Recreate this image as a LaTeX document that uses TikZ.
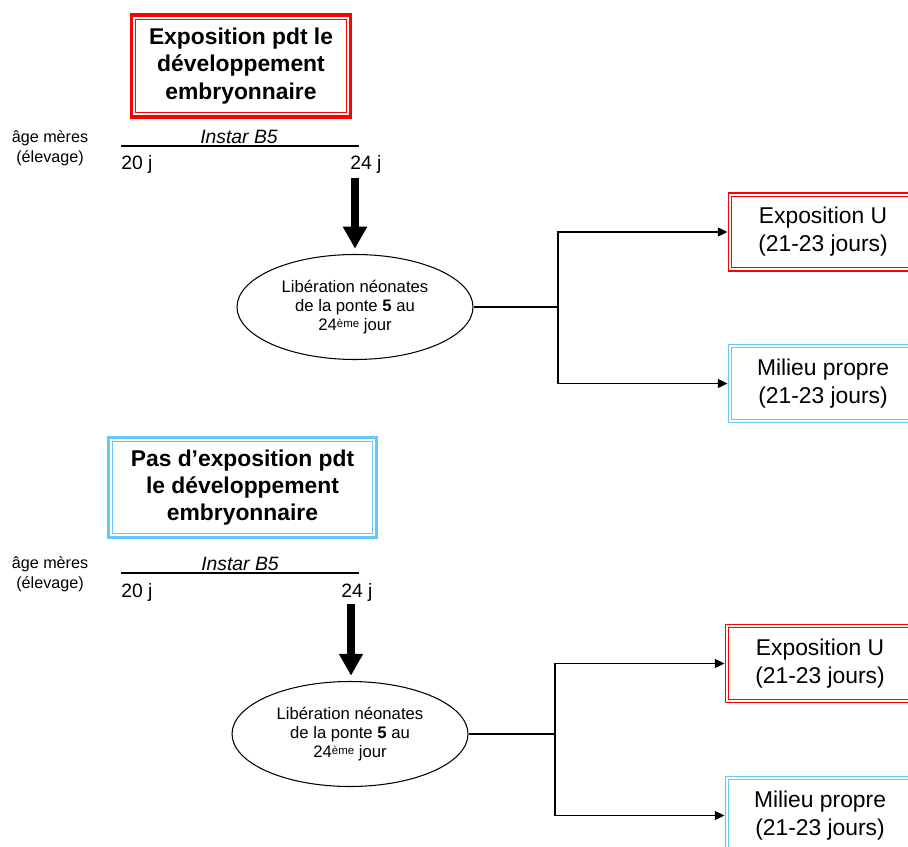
\documentclass[tikz,border=0pt]{standalone}
\usepackage{fontspec}
\setmainfont{Liberation Sans}
\usetikzlibrary{arrows.meta,shapes.geometric}
\definecolor{expored}{RGB}{255,0,0}
\definecolor{cleanblue}{RGB}{100,200,250}
% thin line inside a frame
\newcommand\innerframe[3][3.2pt]{%
  \draw[#3, line width=0.6pt] ([shift={(#1,-#1)}]#2.north west) rectangle ([shift={(-#1,#1)}]#2.south east);}
\tikzset{
  titlebox/.style={draw=#1, line width=1.8pt, align=center, inner sep=0pt,
    font=\fontsize{13}{15.5}\selectfont\bfseries},
  groupbox/.style={draw=#1, line width=0.6pt,
    align=center, minimum width=3.8cm, minimum height=1.56cm, inner sep=0pt,
    font=\fontsize{13}{16}\selectfont},
  agelabel/.style={align=center, inner sep=0pt, font=\fontsize{9.2}{11.3}\selectfont},
  instarlabel/.style={inner sep=0pt, font=\fontsize{11}{13}\selectfont\itshape},
  daylabel/.style={anchor=west, inner sep=0pt, font=\fontsize{11}{13}\selectfont},
  release/.style={draw, ellipse, line width=0.6pt, align=center, inner sep=0pt,
    minimum width=4.72cm, minimum height=2.1cm, font=\fontsize{9.5}{10.8}\selectfont},
  bigarrow/.style={line width=4.5pt, -{Triangle[length=12.5pt,width=13pt]}},
  link/.style={line width=1.1pt},
  linkarrow/.style={line width=1.1pt, -{Triangle[length=5.5pt,width=5pt]}}
}
\newcommand\eme{\raisebox{0.35ex}{\fontsize{6.5}{7}\selectfont ème}}
\begin{document}
\begin{tikzpicture}[x=0.02cm, y=-0.02cm]
  \useasboundingbox (0,0) rectangle (908,847);

  % exposed during embryonic development
  \node[titlebox=expored, minimum width=4.38cm, minimum height=2.04cm] (expo) at (241,66)
    {Exposition pdt le\\développement\\embryonnaire};
  \innerframe{expo}{expored}
  \node[agelabel] (age1) at (50,148) {âge mères\\(élevage)};
  \node[instarlabel] (inst1) at (239,137) {Instar B5};
  \coordinate (l1a) at (121,146);
  \coordinate (l1b) at (359,146);
  \draw[line width=0.6pt] (l1a) -- (l1b);
  \node[daylabel] (d20a) at (121,165) {20 j};
  \node[daylabel] (d24a) at (350,165) {24 j};
  \node[release] (ell1) at (355,307)
    {Libération néonates\\de la ponte \textbf{5} au\\24\eme{} jour};
  \coordinate (a1) at (355,178);
  \draw[bigarrow] (a1) -- ([yshift=3pt]ell1.north);
  \node[groupbox=expored] (u1) at (823,232) {Exposition U\\(21-23 jours)};
  \innerframe[2.2pt]{u1}{expored}
  \node[groupbox=cleanblue] (m1) at (823,383.5) {Milieu propre\\(21-23 jours)};
  \innerframe[2.2pt]{m1}{cleanblue}
  \coordinate (j1) at (558,307);
  \draw[link] (ell1.east) -- (j1);
  \draw[linkarrow] (j1) |- (u1.west);
  \draw[linkarrow] (j1) |- (m1.west);

  % not exposed during embryonic development
  \node[titlebox=cleanblue, minimum width=5.36cm, minimum height=2.0cm] (noexpo) at (242.5,487.5)
    {Pas d’exposition pdt\\le développement\\embryonnaire};
  \innerframe{noexpo}{cleanblue}
  \node[agelabel] (age2) at (50,574) {âge mères\\(élevage)};
  \node[instarlabel] (inst2) at (240,564) {Instar B5};
  \coordinate (l2a) at (121,573);
  \coordinate (l2b) at (359,573);
  \draw[line width=0.6pt] (l2a) -- (l2b);
  \node[daylabel] (d20b) at (121,592) {20 j};
  \node[daylabel] (d24b) at (341,592) {24 j};
  \node[release] (ell2) at (350,734)
    {Libération néonates\\de la ponte \textbf{5} au\\24\eme{} jour};
  \coordinate (a2) at (351,604);
  \draw[bigarrow] (a2) -- ([yshift=3pt]ell2.north -| a2);
  \node[groupbox=expored] (u2) at (820,663.5) {Exposition U\\(21-23 jours)};
  \innerframe[2.2pt]{u2}{expored}
  \node[groupbox=cleanblue] (m2) at (820,815.5) {Milieu propre\\(21-23 jours)};
  \innerframe[2.2pt]{m2}{cleanblue}
  \coordinate (j2) at (555,734);
  \draw[link] (ell2.east) -- (j2);
  \draw[linkarrow] (j2) |- (u2.west);
  \draw[linkarrow] (j2) |- (m2.west);
\end{tikzpicture}
\end{document}
